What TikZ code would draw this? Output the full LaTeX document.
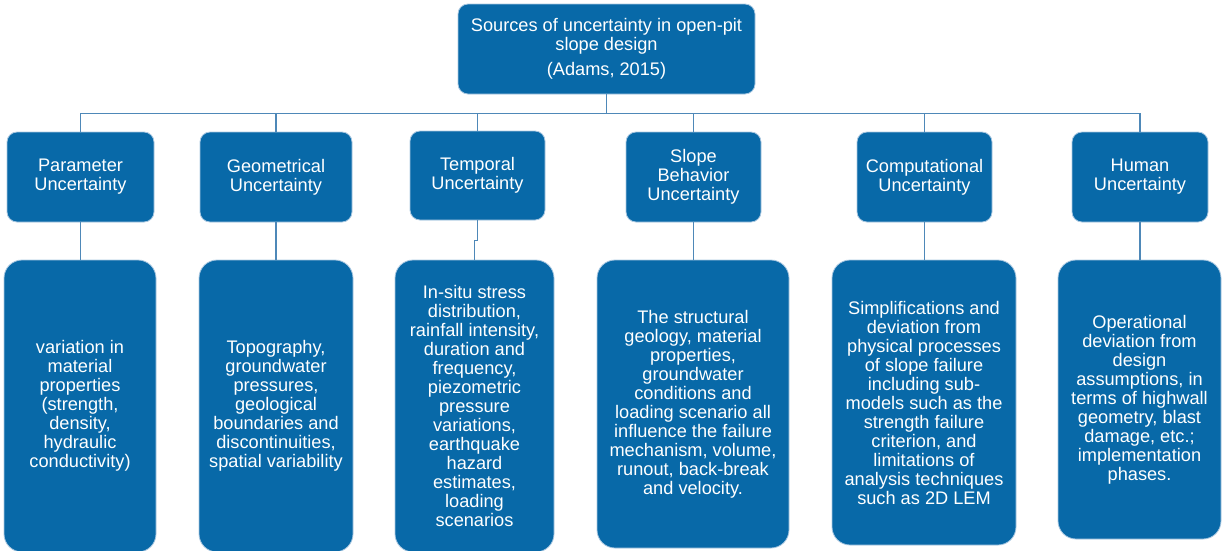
\documentclass[tikz,border=0pt]{standalone}
\usepackage{fontspec}
\setmainfont{Liberation Sans}
\usetikzlibrary{calc}
\definecolor{boxblue}{RGB}{8,105,168}
\definecolor{boxedge}{RGB}{170,200,225}
\definecolor{linkblue}{RGB}{78,136,184}
\tikzset{
  box/.style={draw=boxedge, line width=0.8pt, fill=boxblue, text=white,
    align=center, inner sep=0pt, font=\fontsize{18.2}{19}\selectfont},
  headbox/.style={box, rounded corners=10pt},
  bodybox/.style={box, rounded corners=18pt},
  link/.style={draw=linkblue, line width=1.3pt},
}
% place a box by its pixel corners (x1,y1) to (x2,y2)
\newcommand{\pbox}[7]{%
  \node[#1, minimum width={#4-#2}, minimum height={#5-#3}] (#6)
    at ({(#2+#4)/2},{(#3+#5)/2}) {#7};}
\begin{document}
\begin{tikzpicture}[x=1pt,y=-1pt]
\useasboundingbox (0,0) rectangle (1225,550);

% root
\pbox{headbox}{458}{4}{755}{94}{root}{Sources of uncertainty in open-pit\\slope design\\[6pt](Adams, 2015)}

% categories
\pbox{headbox}{7}{132}{154}{222}{c1}{Parameter\\Uncertainty}
\pbox{headbox}{200}{132}{352}{222}{c2}{Geometrical\\Uncertainty}
\pbox{headbox}{410}{131}{545}{220}{c3}{Temporal\\Uncertainty}
\pbox{headbox}{626}{132}{761}{222}{c4}{Slope\\Behavior\\Uncertainty}
\pbox{headbox}{857}{132}{992}{222}{c5}{Computational\\Uncertainty}
\pbox{headbox}{1072}{132}{1208}{222}{c6}{Human\\Uncertainty}

% descriptions
\pbox{bodybox}{4}{260}{156}{552}{d1}{variation in\\material\\properties\\(strength,\\density,\\hydraulic\\conductivity)}
\pbox{bodybox}{199}{260}{353}{552}{d2}{Topography,\\groundwater\\pressures,\\geological\\boundaries and\\discontinuities,\\spatial variability}
\pbox{bodybox}{395}{260}{554}{552}{d3}{In-situ stress\\distribution,\\rainfall intensity,\\duration and\\frequency,\\piezometric\\pressure\\variations,\\earthquake\\hazard\\estimates,\\loading\\scenarios}
\pbox{bodybox}{597}{260}{789}{548}{d4}{The structural\\geology, material\\properties,\\groundwater\\conditions and\\loading scenario all\\influence the failure\\mechanism, volume,\\runout, back-break\\and velocity.}
\pbox{bodybox}{832}{260}{1016}{545}{d5}{Simplifications and\\deviation from\\physical processes\\of slope failure\\including sub-\\models such as the\\strength failure\\criterion, and\\limitations of\\analysis techniques\\such as 2D LEM}
\pbox{bodybox}{1058}{260}{1221}{539}{d6}{Operational\\deviation from\\design\\assumptions, in\\terms of highwall\\geometry, blast\\damage, etc.;\\implementation\\phases.}

% root to categories
\coordinate (hub) at ($(root.south)+(0,19)$);
\draw[link] (root.south) -- (hub);
\foreach \c in {c1,c2,c3,c4,c5,c6}
  \draw[link] (hub) -| (\c.north);

% categories to descriptions
\foreach \c/\d in {c1/d1,c2/d2,c4/d4,c5/d5,c6/d6}
  \draw[link] (\c.south) -- (\c.south |- \d.north);
\coordinate (tjog) at ($(c3.south)+(0,20)$);
\draw[link] (c3.south) -- (tjog) -| (d3.north);
\end{tikzpicture}
\end{document}
